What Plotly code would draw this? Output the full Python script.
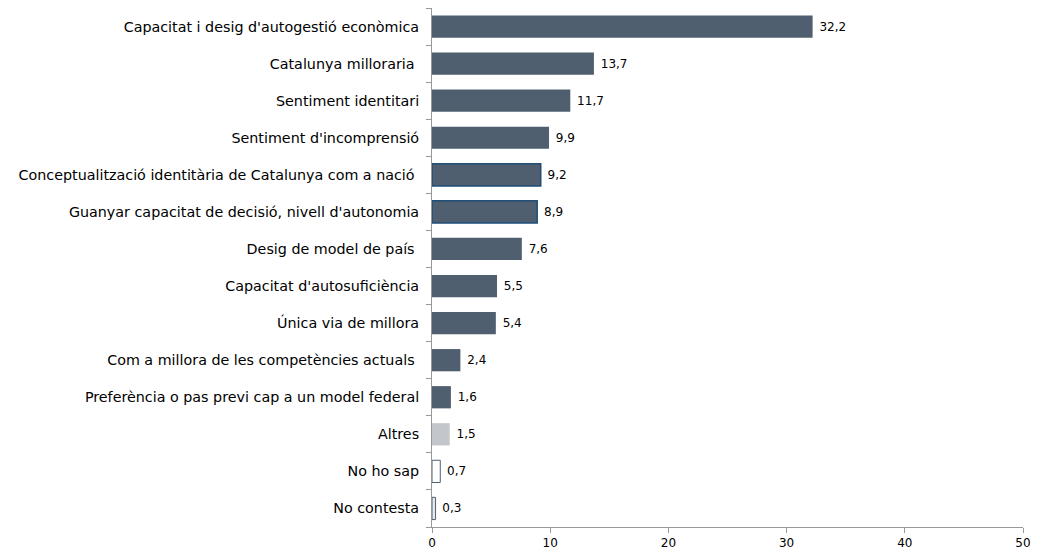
import plotly.graph_objects as go

categories = [
    "Capacitat i desig d'autogestió econòmica",
    "Catalunya milloraria ",
    "Sentiment identitari",
    "Sentiment d'incomprensió",
    "Conceptualització identitària de Catalunya com a nació ",
    "Guanyar capacitat de decisió, nivell d'autonomia",
    "Desig de model de país ",
    "Capacitat d'autosuficiència",
    "Única via de millora",
    "Com a millora de les competències actuals ",
    "Preferència o pas previ cap a un model federal",
    "Altres",
    "No ho sap",
    "No contesta",
]
values = [32.2, 13.7, 11.7, 9.9, 9.2, 8.9, 7.6, 5.5, 5.4, 2.4, 1.6, 1.5, 0.7, 0.3]

dark = "#4f5f6f"
fill_colors = [dark] * 11 + ["#c3c7cb", "#ffffff", "#e6e9ec"]
line_colors = [dark, dark, dark, dark, "#1f4e79", "#1f4e79", dark, dark, dark, dark, dark, "#c3c7cb", dark, dark]
line_widths = [0, 0, 0, 0, 1.5, 1.5, 0, 0, 0, 0, 0, 0, 1, 1]

FONT = "DejaVu Sans, Liberation Sans, Arial, sans-serif"

fig = go.Figure(
    go.Bar(
        x=values,
        y=categories,
        orientation="h",
        marker=dict(color=fill_colors, line=dict(color=line_colors, width=line_widths)),
        texttemplate="\u00a0%{x:.1f}",
        textposition="outside",
        textfont=dict(size=12, color="#000000", family=FONT),
        cliponaxis=False,
        width=0.6,
    )
)

# page body has an 8px margin, so the figure is offset by 8px
fig.update_layout(
    width=1032,
    height=546,
    margin=dict(l=424, r=17, t=0, b=27),
    paper_bgcolor="white",
    plot_bgcolor="white",
    separators=",.",
    showlegend=False,
    font=dict(family=FONT, color="#000000"),
)
fig.update_xaxes(
    range=[0, 50],
    dtick=10,
    showgrid=False,
    zeroline=False,
    showline=True,
    linecolor="#999999",
    linewidth=1,
    ticks="outside",
    ticklen=5,
    tickcolor="#999999",
    tickfont=dict(size=12),
    automargin=False,
)
fig.update_yaxes(
    categoryorder="array",
    categoryarray=categories[::-1],
    autorange=False,
    range=[-0.5, len(categories) - 0.5],
    showgrid=False,
    zeroline=False,
    showline=True,
    linecolor="#999999",
    linewidth=1,
    ticks="outside",
    tickson="boundaries",
    ticklen=5,
    tickcolor="#999999",
    tickfont=dict(size=14.3),
    ticklabelstandoff=9,
    automargin=False,
)

fig.write_html("out.html")
